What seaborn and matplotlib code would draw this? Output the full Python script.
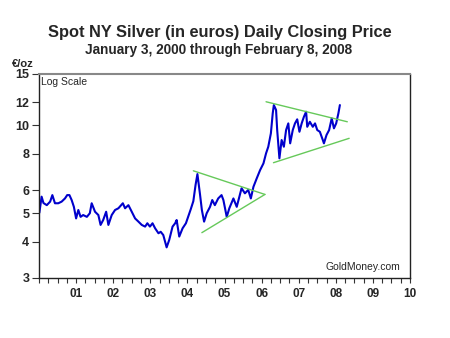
import matplotlib
matplotlib.use("Agg")
import matplotlib.pyplot as plt
import matplotlib.ticker as mticker
import seaborn as sns
import pandas as pd

# Silver price in euros per ounce, x as decimal year
years = [2000.01, 2000.07, 2000.12, 2000.21, 2000.30, 2000.36, 2000.43, 2000.52, 2000.61, 2000.70,
         2000.76, 2000.82, 2000.88, 2000.94, 2001.00, 2001.06, 2001.12, 2001.19, 2001.29, 2001.37,
         2001.42, 2001.51, 2001.60, 2001.66, 2001.73, 2001.81, 2001.87, 2001.96, 2002.05, 2002.14,
         2002.26, 2002.32, 2002.41, 2002.50, 2002.59, 2002.68, 2002.77, 2002.86, 2002.92, 2002.99,
         2003.06, 2003.13, 2003.22, 2003.28, 2003.35, 2003.44, 2003.51, 2003.60, 2003.67, 2003.71,
         2003.78, 2003.87, 2003.96, 2004.09, 2004.16, 2004.22, 2004.27, 2004.34, 2004.39, 2004.45,
         2004.52, 2004.61, 2004.67, 2004.74, 2004.83, 2004.92, 2004.97, 2005.06, 2005.13, 2005.24,
         2005.33, 2005.46, 2005.55, 2005.64, 2005.71, 2005.78, 2005.87, 2005.96, 2006.05, 2006.12,
         2006.18, 2006.25, 2006.30, 2006.33, 2006.39, 2006.42, 2006.48, 2006.54, 2006.60, 2006.66,
         2006.72, 2006.77, 2006.84, 2006.90, 2006.96, 2007.02, 2007.08, 2007.14, 2007.20, 2007.23,
         2007.30, 2007.38, 2007.44, 2007.50, 2007.57, 2007.65, 2007.68, 2007.75, 2007.82, 2007.89,
         2007.95, 2008.01, 2008.07, 2008.11]
prices = [5.02, 5.70, 5.42, 5.33, 5.48, 5.77, 5.41, 5.41, 5.48, 5.62,
          5.77, 5.77, 5.55, 5.26, 4.80, 5.13, 4.86, 4.93, 4.86, 5.00,
          5.41, 5.06, 4.93, 4.56, 4.74, 5.06, 4.56, 4.93, 5.13, 5.20,
          5.41, 5.20, 5.33, 5.06, 4.80, 4.68, 4.56, 4.50, 4.62, 4.50,
          4.62, 4.44, 4.27, 4.32, 4.21, 3.82, 4.05, 4.50, 4.62, 4.74,
          4.16, 4.44, 4.62, 5.16, 5.50, 6.25, 6.81, 5.80, 5.13, 4.68,
          5.00, 5.26, 5.55, 5.33, 5.62, 5.77, 5.55, 4.86, 5.20, 5.62,
          5.26, 6.09, 5.85, 6.01, 5.62, 6.16, 6.59, 7.03, 7.41, 8.02,
          8.45, 9.39, 11.00, 11.74, 11.29, 9.64, 7.71, 8.91, 8.45, 9.64,
          10.16, 8.68, 9.64, 10.16, 10.49, 9.51, 10.16, 10.70, 11.14, 9.89,
          10.29, 9.89, 10.16, 9.64, 9.51, 8.91, 8.68, 9.27, 9.64, 10.57,
          9.77, 10.16, 11.00, 11.74]

# Trend lines (start/end points)
tri1_upper_x = [2004.16, 2006.09]
tri1_upper_y = [6.99, 5.80]
tri1_lower_x = [2004.39, 2006.09]
tri1_lower_y = [4.29, 5.80]
tri2_upper_x = [2006.12, 2008.31]
tri2_upper_y = [12.05, 10.29]
tri2_lower_x = [2006.32, 2008.36]
tri2_lower_y = [7.45, 9.03]

y_ticks = [3, 4, 5, 6, 8, 10, 12, 15]
x_tick_years = list(range(2001, 2011))
x_tick_labels = ["01", "02", "03", "04", "05", "06", "07", "08", "09", "10"]

sns.set_style("white")
plt.rcParams['font.family'] = ['Liberation Sans', 'DejaVu Sans']

fig = plt.figure(figsize=(4.5, 3.38), dpi=100)
ax = fig.add_axes([39/450, 1 - 278/338, (410 - 39)/450, (278 - 74)/338])

df = pd.DataFrame({"year": years, "price": prices})
sns.lineplot(data=df, x="year", y="price", ax=ax, color="#0000CC", linewidth=1.5)

green = "#66C95A"
for xs, ys in [(tri1_upper_x, tri1_upper_y), (tri1_lower_x, tri1_lower_y),
               (tri2_upper_x, tri2_upper_y), (tri2_lower_x, tri2_lower_y)]:
    sns.lineplot(x=xs, y=ys, ax=ax, color=green, linewidth=1.0)

ax.set_yscale("log")
ax.set_ylim(3, 15)
ax.set_xlim(2000, 2010)
ax.yaxis.set_major_locator(mticker.FixedLocator(y_ticks))
ax.yaxis.set_major_formatter(mticker.FixedFormatter([str(v) for v in y_ticks]))
ax.yaxis.set_minor_locator(mticker.NullLocator())
ax.xaxis.set_major_locator(mticker.FixedLocator(x_tick_years))
ax.xaxis.set_major_formatter(mticker.FixedFormatter(x_tick_labels))
ax.xaxis.set_minor_locator(mticker.MultipleLocator(0.25))

ax.tick_params(axis="y", which="major", direction="out", length=5, width=0.8,
               labelsize=9, pad=2, left=True, color="#333333")
ax.tick_params(axis="x", which="both", direction="out", length=3.5, width=0.8,
               labelsize=8.5, pad=4, bottom=True, color="#333333")
for lab in ax.get_xticklabels() + ax.get_yticklabels():
    lab.set_fontweight("bold")

for side in ["left", "right", "bottom", "top"]:
    ax.spines[side].set_visible(True)
    ax.spines[side].set_color("#222222")
    ax.spines[side].set_linewidth(1.0)
ax.spines["top"].set_color("#888888")
ax.spines["top"].set_linewidth(1.5)

ax.set_xlabel("")
ax.set_ylabel("")

ax.text(0.006, 0.985, "Log Scale", transform=ax.transAxes, fontsize=7.5,
        ha="left", va="top")
ax.text(0.975, 0.03, "GoldMoney.com", transform=ax.transAxes, fontsize=7.5,
        ha="right", va="bottom")

fig.text(220/450, 1 - 33/338, "Spot NY Silver (in euros) Daily Closing Price",
         ha="center", va="center", fontsize=11.8, fontweight="bold")
fig.text(219/450, 1 - 50/338, "January 3, 2000 through February 8, 2008",
         ha="center", va="center", fontsize=9.8, fontweight="bold")
fig.text(12/450, 1 - 64/338, "€/oz", ha="left", va="center", fontsize=8,
         fontweight="bold")

fig.savefig("out.png", dpi=100)
